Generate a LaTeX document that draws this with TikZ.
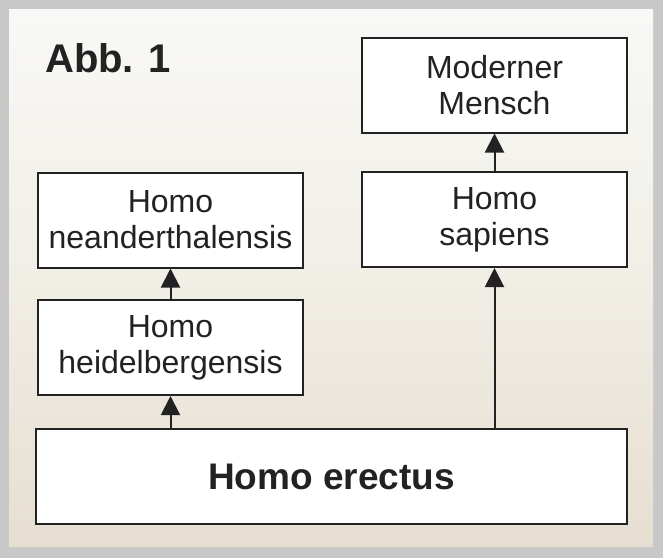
\documentclass[tikz,border=0pt]{standalone}
\usepackage{fontspec}
\setmainfont{Liberation Sans}
\usetikzlibrary{arrows.meta}
\definecolor{framegray}{HTML}{C8C8C8}
\definecolor{bgtop}{HTML}{F8F8F6}
\definecolor{bgmid}{HTML}{F1EEE6}
\definecolor{bgbot}{HTML}{E6DED1}
\definecolor{ink}{HTML}{222222}
\tikzset{
  taxbox/.style={draw=ink, line width=2pt, fill=white, inner sep=0pt,
    minimum width=265pt, minimum height=95pt, align=center, text=ink,
    font=\fontsize{32}{36}\selectfont},
  bigbox/.style={taxbox, minimum width=591pt, font=\bfseries\fontsize{37}{42}\selectfont},
  evo/.style={draw=ink, line width=2pt, -{Triangle[width=19pt,length=19pt]}}
}
\begin{document}
\begin{tikzpicture}[x=1pt,y=-1pt]
\useasboundingbox (0,0) rectangle (663,558);
\fill[framegray] (0,0) rectangle (663,558);
\shade[top color=bgtop, bottom color=bgbot, middle color=bgmid] (9,9) rectangle (653,546);
\node[anchor=base west, text=ink, inner sep=0pt, font=\bfseries\fontsize{40}{46}\selectfont] (title) at (45,72) {Abb. 1};
\node[taxbox] (mensch) at (494.5,85) {Moderner\\Mensch};
\node[taxbox] (sapiens) at (494.5,219.5) {Homo\\sapiens};
\node[taxbox] (neander) at (170.5,220) {Homo\\neanderthalensis};
\node[taxbox] (heidel) at (170.5,347.5) {Homo\\heidelbergensis};
\node[bigbox] (erectus) at (331.5,476.5) {Homo erectus};
\draw[evo] (erectus.north -| heidel.south) -- (heidel.south);
\draw[evo] (heidel.north) -- (neander.south);
\draw[evo] (erectus.north -| sapiens.south) -- (sapiens.south);
\draw[evo] (sapiens.north) -- (mensch.south);
\end{tikzpicture}
\end{document}
